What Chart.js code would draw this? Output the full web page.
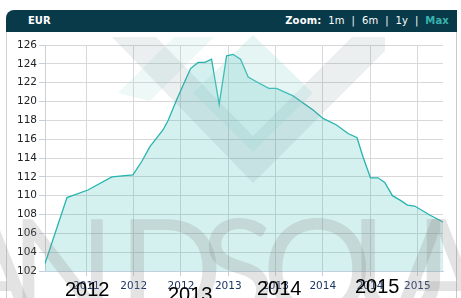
<!DOCTYPE html>
<html>
<head>
<meta charset="utf-8">
<script src="https://cdn.jsdelivr.net/npm/chart.js@4.4.1/dist/chart.umd.min.js"></script>
<style>
  html, body { margin: 0; padding: 0; background: #fff; }
  #wrap { position: relative; width: 461px; height: 298px; overflow: hidden; font-family: "DejaVu Sans", Verdana, sans-serif; }
  #head { position: absolute; left: 6px; top: 10px; width: 451px; height: 22px; background: #083a4a; border-top-left-radius: 8px; color: #fff; font-size: 10px; }
  #head .cur { position: absolute; left: 22px; top: 5px; font-weight: bold; }
  #head .zoom { position: absolute; right: 8px; top: 5px; letter-spacing: 0.2px; }
  #head .zoom b.max { color: #3ab3ad; }
  #frame { position: absolute; left: 6px; top: 32px; width: 449px; height: 270px; border-left: 1px solid #d0d0d0; border-right: 1px solid #c8c8c8; }
  canvas { position: absolute; left: 0; top: 0; }
  .big { position: absolute; font: 20px "Liberation Sans", Arial, sans-serif; line-height: 20px; color: #000; }
</style>
</head>
<body>
<div id="wrap">
  <div id="frame"></div>
  <canvas id="chart" width="461" height="298"></canvas>
  <div id="head"><span class="cur">EUR</span><span class="zoom"><b>Zoom:</b>&nbsp; 1m &nbsp;|&nbsp; 6m &nbsp;|&nbsp; 1y &nbsp;|&nbsp; <b class="max">Max</b></span></div>
</div>
<script>
// months since Jan 2011
const months = [0.74, 3.53, 6.19, 9.23, 11.9, 13.0, 14.06, 15.74, 16.38, 17.44, 18.28, 19.22, 20.18, 21.03, 21.88, 22.85, 23.79, 24.62, 25.56, 26.53, 27.59, 29.15, 30.13, 32.23, 34.77, 36.04, 37.74, 39.21, 40.35, 41.11, 42.05, 43.02, 43.86, 44.84, 45.86, 46.75, 47.67, 49.57, 51.26];
const eur = [102.8, 109.8, 110.6, 112.0, 112.2, 113.6, 115.2, 117.0, 118.0, 120.15, 121.75, 123.5, 124.15, 124.15, 124.5, 119.7, 124.85, 125.0, 124.5, 122.6, 122.1, 121.4, 121.4, 120.6, 119.1, 118.2, 117.5, 116.6, 116.15, 114.1, 111.9, 111.9, 111.4, 110.0, 109.5, 109.0, 108.9, 107.95, 107.2];
const xTickPos = [6, 12, 18, 24, 30, 36, 42, 48];
const xTickLabels = ['2011', '2012', '2012', '2013', '2013', '2014', '2014', '2015'];
const bigYears = ['2012', '2013', '2014', '2015'];
const watermark = 'ANDSQUA';

// big overlapping year labels
const bigPos = [[65, 279], [168, 284], [257, 278], [355, 276]];
bigYears.forEach((t, i) => {
  const d = document.createElement('div');
  d.className = 'big';
  d.textContent = t;
  d.style.left = bigPos[i][0] + 'px';
  d.style.top = bigPos[i][1] + 'px';
  document.getElementById('wrap').appendChild(d);
});

function poly(c, pts) {
  c.beginPath();
  pts.forEach((p, i) => i ? c.lineTo(p[0], p[1]) : c.moveTo(p[0], p[1]));
  c.closePath();
  c.fill();
}

const brand = {
  id: 'brand',
  afterDatasetsDraw(chart) {
    const c = chart.ctx;
    c.save();
    // logo shapes
    c.fillStyle = 'rgba(150,210,205,0.16)';
    poly(c, [[118,93],[174,37],[214,37],[150,101]]);
    c.fillStyle = 'rgba(100,125,135,0.12)';
    poly(c, [[112,37],[156,37],[253,136],[352,37],[385,37],[385,51],[253,183]]);
    c.fillStyle = 'rgba(150,215,212,0.25)';
    poly(c, [[193,93],[253,152],[313,93],[253,35]]);
    // watermark letters
    c.fillStyle = 'rgba(140,140,140,0.24)';
    c.font = '138px Lato, "Open Sans", sans-serif';
    c.textBaseline = 'alphabetic';
    const xs = [-58, 10, 118, 200, 262, 350, 392];
    watermark.split('').forEach((ch, i) => c.fillText(ch, xs[i], 318));
    c.restore();
  }
};

new Chart(document.getElementById('chart'), {
  type: 'line',
  data: {
    datasets: [{
      data: months.map((m, i) => ({ x: m, y: eur[i] })),
      borderColor: '#26b5ae',
      borderWidth: 1.3,
      backgroundColor: 'rgba(40,180,175,0.2)',
      fill: 'start',
      pointRadius: 0,
      tension: 0
    }]
  },
  options: {
    responsive: false,
    animation: false,
    devicePixelRatio: 1,
    layout: { padding: { top: 45, right: 18, left: 0, bottom: 0 } },
    plugins: { legend: { display: false }, tooltip: { enabled: false } },
    scales: {
      x: {
        type: 'linear',
        min: 0.74,
        max: 51.26,
        afterFit(s) { s.height = 27; },
        afterBuildTicks(s) { s.ticks = xTickPos.map(v => ({ value: v })); },
        ticks: {
          autoSkip: false,
          maxRotation: 0,
          padding: 4,
          color: '#1c3763',
          font: { family: 'DejaVu Sans', size: 10.5 },
          callback: (v) => xTickLabels[xTickPos.indexOf(v)]
        },
        grid: { color: '#d8d8d8', tickColor: '#c0d0e0', tickLength: 5 },
        border: { color: '#c0d0e0' }
      },
      y: {
        min: 102,
        max: 126,
        afterFit(s) { s.width = 45; },
        ticks: {
          stepSize: 2,
          padding: 2,
          color: '#222',
          font: { family: 'DejaVu Sans', size: 10.5 }
        },
        grid: { color: '#d8d8d8', tickColor: '#c0d0e0', tickLength: 6 },
        border: { color: '#d0d0d0' }
      }
    }
  },
  plugins: [brand]
});
</script>
</body>
</html>
